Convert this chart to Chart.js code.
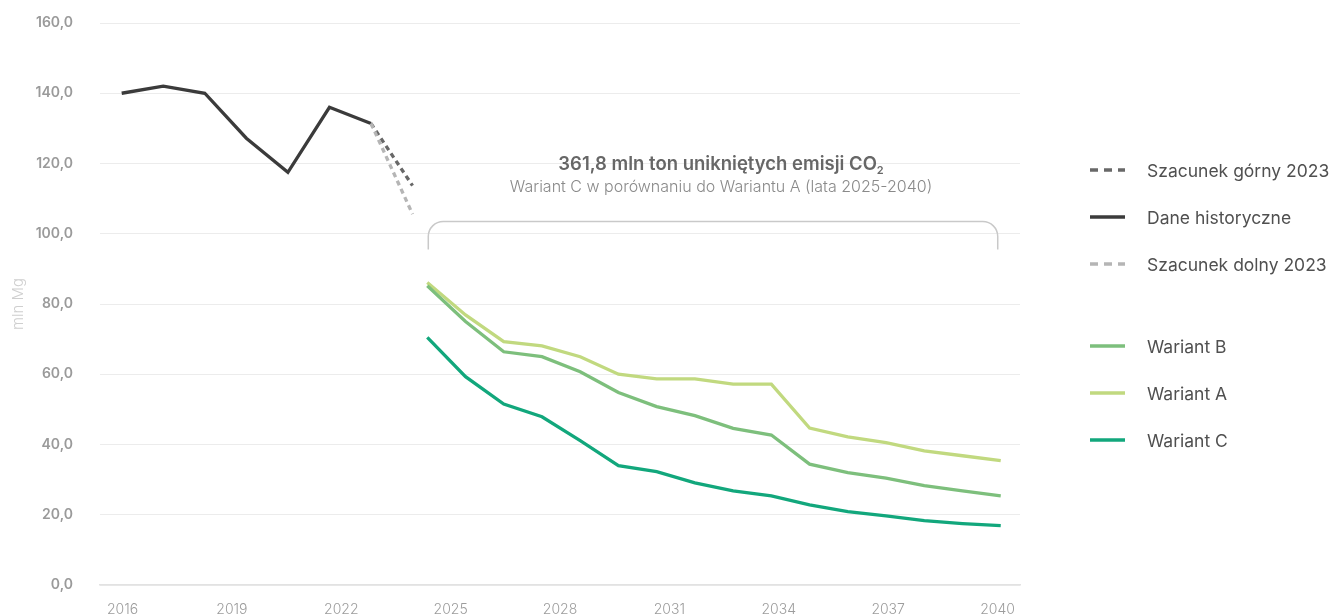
<!DOCTYPE html>
<html>
<head>
<meta charset="utf-8">
<script src="https://cdn.jsdelivr.net/npm/chart.js@4.4.1/dist/chart.umd.min.js"></script>
<style>
  html, body { margin: 0; padding: 0; background: #ffffff; }
  #wrap { position: relative; width: 1333px; height: 616px; overflow: hidden; font-family: Inter, "Noto Sans", sans-serif; }
  #chart { position: absolute; left: 0; top: 0; }
  #note { position: absolute; left: 421px; width: 600px; top: 151px; text-align: center; }
  #note .t1 { font-size: 18.5px; font-weight: 600; color: #676767; line-height: 24px; }
  #note .t1 sub { font-size: 11px; vertical-align: -4px; line-height: 0; }
  #note .t2 { font-size: 16px; font-weight: 300; color: #8a8a8a; line-height: 22px; }
  #legend { position: absolute; left: 1090px; top: 0; }
  .li { position: absolute; left: 0; height: 24px; display: flex; align-items: center; white-space: nowrap; }
  .li svg { width: 35px; height: 6px; margin-right: 22px; }
  .li span { font-size: 17.5px; color: #505050; font-weight: 400; }
</style>
</head>
<body>
<div id="wrap">
  <canvas id="chart" width="1333" height="616"></canvas>
  <div id="note">
    <div class="t1">361,8 mln ton unikniętych emisji CO<sub>2</sub></div>
    <div class="t2">Wariant C w porównaniu do Wariantu A (lata 2025-2040)</div>
  </div>
  <div id="legend"></div>
</div>
<script>
// ---- data ----
const tickYears = [2016, 2019, 2022, 2025, 2028, 2031, 2034, 2037, 2040];

const histYears  = [2016, 2017, 2018, 2019, 2020, 2021, 2022];
const histValues = [140.0, 142.0, 140.0, 127.2, 117.5, 136.0, 131.4];

const estYears        = [2022, 2023];
const estUpperValues  = [131.4, 113.7];
const estLowerValues  = [131.4, 105.6];

const variantYears = [2025, 2026, 2027, 2028, 2029, 2030, 2031, 2032, 2033, 2034, 2035, 2036, 2037, 2038, 2039, 2040];
const variantA = [86.1, 76.9, 69.3, 68.1, 65.0, 60.0, 58.7, 58.7, 57.2, 57.2, 44.7, 42.2, 40.5, 38.2, 36.8, 35.4];
const variantB = [85.2, 75.0, 66.4, 65.0, 60.7, 54.8, 50.8, 48.2, 44.6, 42.7, 34.4, 32.0, 30.4, 28.3, 26.8, 25.4];
const variantC = [70.5, 59.3, 51.5, 47.9, 41.1, 34.0, 32.3, 29.1, 26.8, 25.4, 22.8, 20.9, 19.7, 18.3, 17.5, 16.9];

const zip = (xs, ys) => xs.map((x, i) => ({ x: x, y: ys[i] }));

const datasets = [
  { label: 'Szacunek górny 2023', data: zip(estYears, estUpperValues), xAxisID: 'xh',
    borderColor: '#686868', borderDash: [5, 4], order: 2 },
  { label: 'Dane historyczne', data: zip(histYears, histValues), xAxisID: 'xh',
    borderColor: '#3b3b3b', order: 3 },
  { label: 'Szacunek dolny 2023', data: zip(estYears, estLowerValues), xAxisID: 'xh',
    borderColor: '#b5b5b5', borderDash: [5, 4], order: 1 },
  { label: 'Wariant B', data: zip(variantYears, variantB), xAxisID: 'xv',
    borderColor: '#7dbf7c', order: 5, gapBefore: true },
  { label: 'Wariant A', data: zip(variantYears, variantA), xAxisID: 'xv',
    borderColor: '#c1d97f', order: 6 },
  { label: 'Wariant C', data: zip(variantYears, variantC), xAxisID: 'xv',
    borderColor: '#12a77c', order: 4 }
];
datasets.forEach(d => { d.borderWidth = 3.3; d.pointRadius = 0; d.fill = false; d.tension = 0; });

// bracket over the variant period
const bracketPlugin = {
  id: 'bracket',
  afterDatasetsDraw(chart) {
    const xs = chart.scales.xv, ys = chart.scales.y;
    const x1 = xs.getPixelForValue(variantYears[0]) + 1;
    const x2 = xs.getPixelForValue(variantYears[variantYears.length - 1]) - 3;
    const top = ys.getPixelForValue(103.5);
    const bot = ys.getPixelForValue(95.5);
    const r = 15;
    const ctx = chart.ctx;
    ctx.save();
    ctx.strokeStyle = '#c9c9c9';
    ctx.lineWidth = 1.5;
    ctx.beginPath();
    ctx.moveTo(x1, bot);
    ctx.lineTo(x1, top + r);
    ctx.arcTo(x1, top, x1 + r, top, r);
    ctx.lineTo(x2 - r, top);
    ctx.arcTo(x2, top, x2, top + r, r);
    ctx.lineTo(x2, bot);
    ctx.stroke();
    ctx.restore();
  }
};

const chart = new Chart(document.getElementById('chart'), {
  type: 'line',
  data: { datasets: datasets },
  options: {
    responsive: false,
    animation: false,
    layout: { padding: { top: 23, left: 0, right: 313, bottom: 0 } },
    plugins: { legend: { display: false }, tooltip: { enabled: false } },
    scales: {
      x: {
        type: 'linear', position: 'bottom',
        min: 2015.383, max: 2040.616,
        afterBuildTicks: s => { s.ticks = tickYears.map(v => ({ value: v })); },
        afterFit: s => { s.height = 31; s.paddingLeft = 0; s.paddingRight = 0; },
        ticks: { autoSkip: false, maxRotation: 0, padding: 16, color: '#9c9c9c',
                 font: { family: 'Inter', size: 14, weight: '300' },
                 callback: v => String(v) },
        grid: { display: false, drawTicks: false },
        border: { display: true, color: '#e2e2e2', width: 1.5 }
      },
      xh: { type: 'linear', display: false, min: 2015.478, max: 2037.62 },
      xv: { type: 'linear', display: false, min: 2016.439, max: 2040.504 },
      y: {
        type: 'linear', min: 0, max: 160,
        afterFit: s => { s.width = 100; s.paddingTop = 0; s.paddingBottom = 0; },
        ticks: { stepSize: 20, padding: 27, color: '#9a9a9a',
                 font: { family: 'Inter', size: 14, weight: '600' },
                 callback: v => v.toFixed(1).replace('.', ',') },
        grid: { color: '#ececec', lineWidth: 1, drawTicks: false },
        border: { display: false },
        title: { display: true, text: 'mln Mg', color: '#cfcfcf', padding: 9,
                 font: { family: 'Inter', size: 15, weight: '300' } }
      }
    }
  },
  plugins: [bracketPlugin]
});

// HTML legend built from the datasets
const legend = document.getElementById('legend');
let rowY = 158;
datasets.forEach(d => {
  if (d.gapBefore) rowY += 35;
  const row = document.createElement('div');
  row.className = 'li';
  row.style.top = rowY + 'px';
  const dash = d.borderDash ? 'stroke-dasharray="8 6"' : '';
  row.innerHTML = '<svg viewBox="0 0 35 6"><line x1="0" y1="3" x2="35" y2="3" stroke="' +
    d.borderColor + '" stroke-width="3.5" ' + dash + '/></svg><span></span>';
  row.querySelector('span').textContent = d.label;
  legend.appendChild(row);
  rowY += 47;
});
</script>
</body>
</html>
